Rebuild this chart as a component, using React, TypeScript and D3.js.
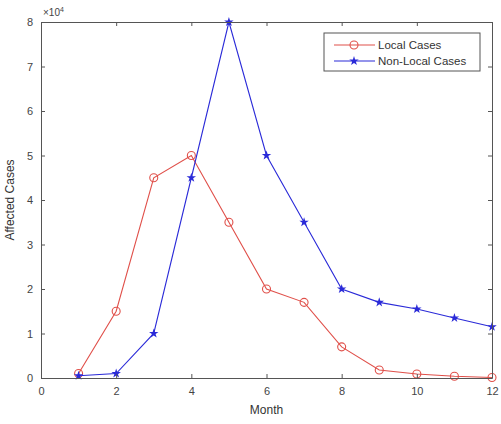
import React, { useEffect, useRef } from "react"
import * as d3 from "d3"

const months = [1, 2, 3, 4, 5, 6, 7, 8, 9, 10, 11, 12]
const localCases = [0.1, 1.5, 4.5, 5.0, 3.5, 2.0, 1.7, 0.7, 0.18, 0.09, 0.04, 0.01]
const nonLocalCases = [0.05, 0.1, 1.0, 4.5, 8.0, 5.0, 3.5, 2.0, 1.7, 1.55, 1.35, 1.15]
const xTicks = [0, 2, 4, 6, 8, 10, 12]
const yTicks = [0, 1, 2, 3, 4, 5, 6, 7, 8]
const seriesNames = ["Local Cases", "Non-Local Cases"]

const W = 501
const H = 424
const margin = { top: 22, right: 9, bottom: 46, left: 41 }
const font = "Liberation Sans, Arial, sans-serif"
const red = "#e0504a"
const blue = "#2a2ad8"
const axisColor = "#555"

export default function App() {
    const ref = useRef<SVGSVGElement>(null)

    useEffect(() => {
        const svg = d3.select(ref.current)
        svg.selectAll("*").remove()
        const width = W - margin.left - margin.right
        const height = H - margin.top - margin.bottom

        const x = d3.scaleLinear().domain([0, 12]).range([0, width])
        const y = d3.scaleLinear().domain([0, 8]).range([height, 0])

        const g = svg.append("g").attr("transform", `translate(${margin.left},${margin.top})`)

        g.append("rect").attr("width", width).attr("height", height).attr("fill", "white")

        // data lines
        const line = d3.line<number>().x((d, i) => x(months[i])).y(d => y(d))

        g.append("path").datum(localCases).attr("d", line)
            .attr("fill", "none").attr("stroke", red).attr("stroke-width", 1.1)
        g.selectAll(".lc").data(localCases).enter().append("circle")
            .attr("cx", (d, i) => x(months[i])).attr("cy", d => y(d)).attr("r", 4)
            .attr("fill", "none").attr("stroke", red).attr("stroke-width", 1.1)

        g.append("path").datum(nonLocalCases).attr("d", line)
            .attr("fill", "none").attr("stroke", blue).attr("stroke-width", 1.1)
        const star = d3.symbol().type(d3.symbolStar).size(28)
        g.selectAll(".nl").data(nonLocalCases).enter().append("path")
            .attr("d", star)
            .attr("transform", (d, i) => `translate(${x(months[i])},${y(d)})`)
            .attr("fill", blue)

        // axes box with inward ticks
        const styleAxis = (sel: any) => {
            sel.select(".domain").attr("stroke", axisColor)
            sel.selectAll(".tick line").attr("stroke", axisColor)
            sel.selectAll("text").attr("fill", "#444").attr("font-family", font).attr("font-size", 11)
        }
        g.append("g").attr("transform", `translate(0,${height})`)
            .call(d3.axisBottom(x).tickValues(xTicks).tickSize(-4).tickSizeOuter(0).tickPadding(9))
            .call(styleAxis)
        g.append("g")
            .call(d3.axisLeft(y).tickValues(yTicks).tickSize(-4).tickSizeOuter(0).tickPadding(8))
            .call(styleAxis)
        g.append("g")
            .call(d3.axisTop(x).tickValues(xTicks).tickSize(-4).tickSizeOuter(0).tickFormat(() => ""))
            .call(styleAxis)
        g.append("g").attr("transform", `translate(${width},0)`)
            .call(d3.axisRight(y).tickValues(yTicks).tickSize(-4).tickSizeOuter(0).tickFormat(() => ""))
            .call(styleAxis)

        // exponent
        const ex = g.append("text").attr("x", 2).attr("y", -6)
            .attr("font-family", font).attr("font-size", 10).attr("fill", "#444")
        ex.append("tspan").text("×10")
        ex.append("tspan").attr("dy", -4).attr("font-size", 7).text("4")

        // axis labels
        g.append("text").attr("x", width / 2).attr("y", height + 36)
            .attr("text-anchor", "middle").attr("font-family", font).attr("font-size", 12)
            .attr("fill", "#333").text("Month")
        g.append("text").attr("transform", `translate(${-27},${height / 2}) rotate(-90)`)
            .attr("text-anchor", "middle").attr("font-family", font).attr("font-size", 12)
            .attr("fill", "#333").text("Affected Cases")

        // legend
        const lg = g.append("g").attr("transform", `translate(${324 - margin.left},${33 - margin.top})`)
        lg.append("rect").attr("width", 156).attr("height", 38)
            .attr("fill", "white").attr("stroke", axisColor)
        const colors = [red, blue]
        seriesNames.forEach((name, i) => {
            const ly = 12 + i * 16
            lg.append("line").attr("x1", 10).attr("x2", 51).attr("y1", ly).attr("y2", ly)
                .attr("stroke", colors[i]).attr("stroke-width", 1.1)
            if (i === 0) {
                lg.append("circle").attr("cx", 30).attr("cy", ly).attr("r", 4)
                    .attr("fill", "none").attr("stroke", red).attr("stroke-width", 1.1)
            } else {
                lg.append("path").attr("d", star).attr("transform", `translate(30,${ly})`).attr("fill", blue)
            }
            lg.append("text").attr("x", 54).attr("y", ly + 4)
                .attr("font-family", font).attr("font-size", 11.5).attr("fill", "#333").text(name)
        })
    }, [])

    return (
        <svg ref={ref} width={W} height={H}
            style={{ position: "absolute", left: 0, top: 0, background: "white" }} />
    )
}
